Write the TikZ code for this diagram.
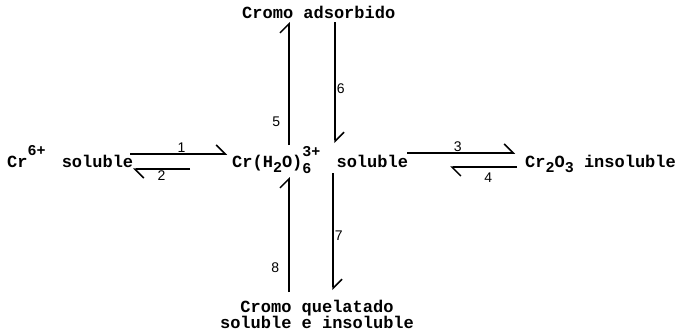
\documentclass[tikz,border=0pt]{standalone}
\usepackage{fontspec}
\setmonofont{Liberation Mono}
\newfontfamily\numfont{Liberation Sans}
\usetikzlibrary{arrows.meta}
\tikzset{
  species/.style={font=\ttfamily\bfseries\fontsize{17}{16}\selectfont, inner sep=0pt},
  reac/.style={line width=1.5pt, -{Straight Barb[harpoon,length=9pt,width=18pt]}},
  num/.style={font=\numfont\fontsize{14}{14}\selectfont, inner sep=1pt}
}
\newcommand{\smalltt}{\fontsize{15}{15}\selectfont}
\begin{document}
\begin{tikzpicture}[x=1pt,y=-1pt]
	\useasboundingbox (0,0) rectangle (683,332);
	%draw species
	\node[species, anchor=base west] (cr6) at (7,167)
		{Cr\raisebox{0.65em}{\smalltt 6+}\hspace{0.35em} soluble};
	\node[species, anchor=base west] (crh) at (232,167)
		{Cr(H\raisebox{-0.35em}{\smalltt 2}O)\rlap{\raisebox{-0.4em}{\smalltt 6}}\raisebox{0.6em}{\smalltt 3+}\hspace{0.95em}soluble};
	\node[species, anchor=base west] (cr2o3) at (525,167)
		{Cr\raisebox{-0.35em}{\smalltt 2}O\raisebox{-0.35em}{\smalltt 3} insoluble};
	\node[species, anchor=base west] (ads) at (242,18) {Cromo adsorbido};
	\node[species, anchor=base, align=center] (quel) at (317,328)
		{Cromo quelatado\\soluble e insoluble};
	%arrow ends
	\coordinate (r1a) at (130,154); \coordinate (r1b) at (227,154);
	\coordinate (r2a) at (190,169); \coordinate (r2b) at (133,169);
	\coordinate (r3a) at (407,153); \coordinate (r3b) at (515,153);
	\coordinate (r4a) at (517,167); \coordinate (r4b) at (450,167);
	\coordinate (r5a) at (289,145); \coordinate (r5b) at (289,22);
	\coordinate (r6a) at (335,22);  \coordinate (r6b) at (335,143);
	\coordinate (r7a) at (333,173); \coordinate (r7b) at (333,290);
	\coordinate (r8a) at (289,292); \coordinate (r8b) at (289,177);
	%draw reactions
	\draw[reac] (r1a) -- (r1b) node[num, pos=0.53, above] {1};
	\draw[reac] (r2a) -- (r2b) node[num, pos=0.5, below=0pt] {2};
	\draw[reac] (r3a) -- (r3b) node[num, pos=0.47, above] {3};
	\draw[reac] (r4a) -- (r4b) node[num, pos=0.43, below=4pt] {4};
	\draw[reac] (r5a) -- (r5b) node[num, pos=0.19, left=7pt] {5};
	\draw[reac] (r6a) -- (r6b) node[num, pos=0.55, right] {6};
	\draw[reac] (r7a) -- (r7b) node[num, pos=0.54, right] {7};
	\draw[reac] (r8a) -- (r8b) node[num, pos=0.21, left=8pt] {8};
\end{tikzpicture}
\end{document}
